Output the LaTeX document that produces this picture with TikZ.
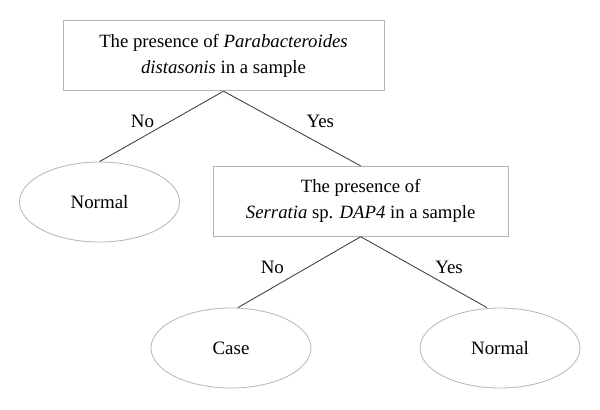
\documentclass[tikz,border=0pt]{standalone}
\usepackage{fontspec}
\setmainfont{Liberation Serif}
\usetikzlibrary{shapes.geometric}
\definecolor{boxgray}{HTML}{B4B4B4}
\definecolor{linegray}{HTML}{444444}

\begin{document}
\begin{tikzpicture}[x = 1bp, y = -1bp,
    question/.style = {draw = boxgray, line width = 0.8bp, align = center, minimum height = 70bp, inner sep = 0pt, font = \fontsize{18.8}{26}\selectfont},
    leaf/.style = {draw = boxgray, line width = 0.8bp, ellipse, minimum width = 160bp, minimum height = 80bp, inner sep = 0pt, font = \fontsize{19}{22}\selectfont},
    branch/.style = {draw = linegray, line width = 0.9bp},
    answer/.style = {font = \fontsize{19}{22}\selectfont, inner sep = 1bp}]
    \useasboundingbox (0,0) rectangle (600,409);
    \node[question, minimum width = 321bp] (q1) at (223.5,55.8) {The presence of \textit{Parabacteroides}\\ \textit{distasonis} in a sample};
    \node[question, minimum width = 295bp] (q2) at (360.7,201.3) {The presence of\\ \textit{Serratia} sp. \textit{DAP4} in a sample};
    \node[leaf] (normala) at (99.5,202) {Normal};
    \node[leaf] (case) at (231,348) {Case};
    \node[leaf] (normalb) at (500,348) {Normal};
    \draw[branch]
    (q1.south) -- node[answer, left = 6bp, yshift = 5bp] (no1) {No} (normala.north);
    \draw[branch]
    (q1.south) -- node[answer, right = 13bp, yshift = 7bp] (yes1) {Yes} (q2.north);
    \draw[branch]
    (q2.south) -- node[answer, left = 14bp, yshift = 5bp] (no2) {No} ([xshift = 7bp]case.north);
    \draw[branch]
    (q2.south) -- node[answer, right = 10bp, yshift = 5bp] (yes2) {Yes} ([xshift = -13bp]normalb.north);
\end{tikzpicture}
\end{document}
